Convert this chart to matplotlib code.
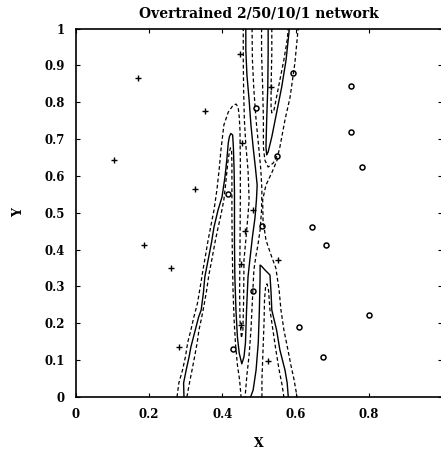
import matplotlib.pyplot as plt

# training patterns, class 0 (plotted as +)
cross_x = [0.105, 0.169, 0.187, 0.260, 0.282, 0.326, 0.352, 0.448,
           0.454, 0.484, 0.462, 0.450, 0.450, 0.534, 0.551, 0.525]
cross_y = [0.642, 0.865, 0.412, 0.351, 0.136, 0.565, 0.777, 0.930,
           0.688, 0.507, 0.451, 0.360, 0.195, 0.842, 0.372, 0.099]

# training patterns, class 1 (plotted as o)
circle_x = [0.594, 0.492, 0.550, 0.416, 0.751, 0.751, 0.781, 0.509,
            0.644, 0.483, 0.608, 0.430, 0.682, 0.801, 0.676]
circle_y = [0.878, 0.783, 0.654, 0.551, 0.845, 0.720, 0.623, 0.464,
            0.461, 0.288, 0.189, 0.129, 0.412, 0.223, 0.109]

# output = 0.5 contour (decision boundary), three pieces
c1_x = [0.295, 0.294, 0.301, 0.309, 0.314, 0.321, 0.328, 0.335, 0.342, 0.348,
        0.352, 0.361, 0.370, 0.377, 0.388, 0.399, 0.407, 0.412, 0.416, 0.419,
        0.423, 0.428, 0.430, 0.432, 0.433, 0.433, 0.433, 0.434, 0.437, 0.441,
        0.446, 0.453, 0.459, 0.463, 0.466, 0.470, 0.475, 0.482, 0.489, 0.493,
        0.495, 0.490, 0.484, 0.478, 0.473, 0.467, 0.464, 0.464]
c1_y = [0.0, 0.038, 0.073, 0.109, 0.136, 0.163, 0.190, 0.217, 0.236, 0.282,
        0.326, 0.372, 0.418, 0.461, 0.507, 0.543, 0.597, 0.643, 0.689, 0.706,
        0.715, 0.711, 0.678, 0.616, 0.554, 0.494, 0.418, 0.326, 0.236, 0.163,
        0.119, 0.090, 0.109, 0.147, 0.236, 0.326, 0.372, 0.434, 0.486, 0.535,
        0.575, 0.624, 0.678, 0.738, 0.806, 0.874, 0.942, 1.0]

c2_x = [0.525, 0.525, 0.524, 0.521, 0.519, 0.521, 0.525, 0.535, 0.548, 0.562,
        0.574, 0.583]
c2_y = [1.0, 0.933, 0.841, 0.752, 0.678, 0.657, 0.665, 0.706, 0.771, 0.841,
        0.915, 1.0]

c3_x = [0.477, 0.484, 0.492, 0.498, 0.501, 0.503, 0.503, 0.507, 0.516, 0.530,
        0.533, 0.535, 0.548, 0.557, 0.571, 0.577, 0.580]
c3_y = [0.0, 0.019, 0.073, 0.147, 0.236, 0.326, 0.358, 0.355, 0.345, 0.331,
        0.282, 0.236, 0.182, 0.128, 0.073, 0.038, 0.0]

# dashed contours either side of the boundary
da_x = [0.276, 0.281, 0.291, 0.299, 0.305, 0.314, 0.322, 0.332, 0.339, 0.347,
        0.354, 0.361, 0.369, 0.377, 0.385, 0.391, 0.396, 0.404, 0.416, 0.428,
        0.437, 0.443, 0.446, 0.448, 0.449, 0.449, 0.448, 0.447, 0.448, 0.452,
        0.456, 0.458, 0.459, 0.464, 0.470, 0.473, 0.470, 0.464, 0.460, 0.458,
        0.457, 0.457]
da_y = [0.0, 0.038, 0.073, 0.109, 0.147, 0.182, 0.217, 0.255, 0.296, 0.345,
        0.385, 0.426, 0.467, 0.507, 0.562, 0.616, 0.670, 0.738, 0.773, 0.790,
        0.795, 0.787, 0.760, 0.725, 0.643, 0.535, 0.399, 0.290, 0.209, 0.160,
        0.182, 0.263, 0.372, 0.426, 0.494, 0.535, 0.616, 0.684, 0.752, 0.833,
        0.915, 1.0]

db_x = [0.303, 0.310, 0.317, 0.324, 0.331, 0.336, 0.343, 0.350, 0.357, 0.363,
        0.372, 0.380, 0.388, 0.396, 0.404, 0.410, 0.415, 0.419, 0.422, 0.425,
        0.426, 0.426, 0.426, 0.427, 0.429, 0.432, 0.436, 0.441, 0.447, 0.451]
db_y = [0.0, 0.038, 0.073, 0.109, 0.147, 0.182, 0.214, 0.250, 0.290, 0.331,
        0.377, 0.421, 0.459, 0.494, 0.535, 0.589, 0.638, 0.665, 0.676, 0.670,
        0.630, 0.562, 0.494, 0.399, 0.290, 0.209, 0.141, 0.087, 0.046, 0.0]

dc_x = [0.481, 0.482, 0.486, 0.492, 0.500, 0.505, 0.508, 0.507, 0.503, 0.497,
        0.492, 0.486, 0.482, 0.478, 0.473, 0.467, 0.462]
dc_y = [1.0, 0.915, 0.833, 0.752, 0.670, 0.616, 0.562, 0.507, 0.453, 0.412,
        0.385, 0.345, 0.263, 0.182, 0.114, 0.060, 0.0]

dd_x = [0.507, 0.507, 0.510, 0.512, 0.512, 0.516, 0.525, 0.539, 0.553, 0.557,
        0.571, 0.585, 0.598, 0.607]
dd_y = [1.0, 0.933, 0.841, 0.752, 0.678, 0.643, 0.624, 0.635, 0.662, 0.678,
        0.752, 0.814, 0.906, 1.0]

de_x = [0.552, 0.536, 0.519, 0.510, 0.511, 0.519, 0.533, 0.546, 0.555, 0.560,
        0.568, 0.579, 0.587, 0.596, 0.604]
de_y = [0.649, 0.611, 0.575, 0.535, 0.480, 0.426, 0.385, 0.350, 0.290, 0.236,
        0.182, 0.128, 0.087, 0.046, 0.0]

dg_x = [0.535, 0.535, 0.533, 0.533, 0.535, 0.541, 0.548, 0.557, 0.568, 0.577,
        0.580]
dg_y = [1.0, 0.933, 0.841, 0.787, 0.771, 0.779, 0.814, 0.860, 0.915, 0.969,
        1.0]

dh_x = [0.508, 0.508, 0.511, 0.514, 0.515, 0.518, 0.522, 0.526, 0.530, 0.538,
        0.546, 0.555, 0.563, 0.568]
dh_y = [0.0, 0.046, 0.128, 0.209, 0.263, 0.299, 0.307, 0.290, 0.236, 0.182,
        0.128, 0.073, 0.033, 0.0]

plt.rcParams['font.family'] = ['DejaVu Serif']
plt.rcParams['font.weight'] = 'bold'

fig = plt.figure(figsize=(4.41, 4.5), dpi=100)
ax = fig.add_axes([76 / 441, 53 / 450, 366 / 441, 368.5 / 450])

# boundary and the two dashed levels
for cx, cy in [(c1_x, c1_y), (c2_x, c2_y), (c3_x, c3_y)]:
    ax.plot(cx, cy, color='black', lw=1.0)
for dx, dy in [(da_x, da_y), (db_x, db_y), (dc_x, dc_y), (dd_x, dd_y),
               (de_x, de_y), (dg_x, dg_y), (dh_x, dh_y)]:
    ax.plot(dx, dy, color='black', lw=0.9, linestyle=(0, (3, 2)))

ax.plot(cross_x, cross_y, '+', color='black', markersize=5, mew=1.0)
ax.plot(circle_x, circle_y, 'o', mfc='none', mec='black', markersize=3.6, mew=1.1)

ax.set_xlim(0, 1)
ax.set_ylim(0, 1)
ax.set_xticks([0, 0.2, 0.4, 0.6, 0.8, 1.0])
ax.set_xticklabels(['0', '0.2', '0.4', '0.6', '0.8', ''])
ax.set_yticks([i / 10 for i in range(11)])
ax.set_yticklabels(['0', '0.1', '0.2', '0.3', '0.4', '0.5', '0.6', '0.7',
                    '0.8', '0.9', '1'])
ax.tick_params(direction='in', length=3, width=0.8, top=True, right=True,
               labelsize=8.5, pad=8)
for s in ax.spines.values():
    s.set_linewidth(1.2)

ax.set_title('Overtrained 2/50/10/1 network', fontsize=10, fontweight='bold', pad=8)
ax.set_xlabel('X', fontsize=9, fontweight='bold', va='center')
ax.set_ylabel('Y', fontsize=9, fontweight='bold', va='center')
ax.xaxis.set_label_coords(0.5, -0.125)
ax.yaxis.set_label_coords(-0.156, 0.502)

fig.savefig('out.png', dpi=100)
